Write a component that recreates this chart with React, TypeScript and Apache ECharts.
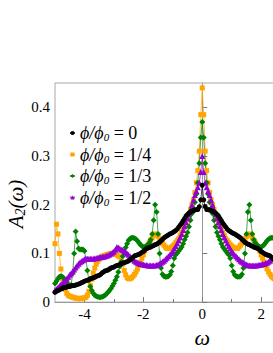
import React, { useEffect, useRef } from "react";
import * as echarts from "echarts";

const STEP = 0.05;
// values for omega = 0, 0.05, ..., 5.0 (curves are symmetric in omega)
const phi0Half = [
  0.24, 0.21, 0.196, 0.19, 0.19, 0.189, 0.188, 0.187, 0.185, 0.183,
  0.18, 0.177, 0.172, 0.167, 0.162, 0.158, 0.154, 0.15, 0.147, 0.145,
  0.143, 0.141, 0.14, 0.138, 0.136, 0.134, 0.132, 0.129, 0.126, 0.123,
  0.121, 0.119, 0.118, 0.116, 0.115, 0.113, 0.112, 0.111, 0.11, 0.107,
  0.104, 0.102, 0.1, 0.098, 0.097, 0.096, 0.095, 0.092, 0.089, 0.087,
  0.085, 0.083, 0.082, 0.081, 0.08, 0.079, 0.077, 0.076, 0.075, 0.074,
  0.072, 0.071, 0.07, 0.068, 0.066, 0.065, 0.064, 0.062, 0.06, 0.057,
  0.055, 0.054, 0.053, 0.051, 0.05, 0.049, 0.048, 0.046, 0.045, 0.044,
  0.043, 0.041, 0.04, 0.038, 0.037, 0.036, 0.035, 0.034, 0.034, 0.033,
  0.033, 0.032, 0.031, 0.03, 0.03, 0.028, 0.027, 0.025, 0.024, 0.022,
  0.02,
];
const phi14Half = [
  0.44, 0.385, 0.31, 0.27, 0.245, 0.225, 0.21, 0.2, 0.19, 0.18,
  0.17, 0.163, 0.157, 0.15, 0.143, 0.137, 0.13, 0.126, 0.122, 0.118,
  0.115, 0.113, 0.111, 0.11, 0.11, 0.113, 0.117, 0.121, 0.125, 0.13,
  0.135, 0.139, 0.14, 0.137, 0.132, 0.127, 0.122, 0.116, 0.11, 0.105,
  0.097, 0.09, 0.082, 0.075, 0.068, 0.062, 0.057, 0.053, 0.05, 0.048,
  0.048, 0.05, 0.056, 0.065, 0.078, 0.09, 0.093, 0.095, 0.097, 0.098,
  0.099, 0.1, 0.1, 0.099, 0.098, 0.097, 0.096, 0.095, 0.094, 0.091,
  0.088, 0.084, 0.078, 0.07, 0.06, 0.047, 0.034, 0.022, 0.014, 0.01,
  0.009, 0.008, 0.008, 0.007, 0.007, 0.008, 0.008, 0.009, 0.01, 0.011,
  0.012, 0.014, 0.018, 0.026, 0.036, 0.048, 0.068, 0.1, 0.14, 0.16,
  0.12,
];
const phi13Half = [
  0.37, 0.338, 0.285, 0.245, 0.222, 0.205, 0.192, 0.182, 0.168, 0.155,
  0.143, 0.135, 0.128, 0.12, 0.113, 0.109, 0.105, 0.101, 0.097, 0.09,
  0.075, 0.063, 0.056, 0.053, 0.052, 0.052, 0.053, 0.057, 0.07, 0.1,
  0.14, 0.185, 0.2, 0.168, 0.14, 0.128, 0.122, 0.118, 0.115, 0.113,
  0.113, 0.115, 0.118, 0.122, 0.126, 0.129, 0.131, 0.132, 0.132, 0.13,
  0.127, 0.12, 0.112, 0.104, 0.094, 0.083, 0.073, 0.062, 0.052, 0.045,
  0.038, 0.033, 0.028, 0.024, 0.02, 0.017, 0.014, 0.012, 0.011, 0.01,
  0.01, 0.011, 0.012, 0.014, 0.018, 0.024, 0.032, 0.045, 0.065, 0.088,
  0.105, 0.108, 0.108, 0.108, 0.11, 0.125, 0.145, 0.1, 0.06, 0.035,
  0.032, 0.036, 0.04, 0.045, 0.049, 0.052, 0.053, 0.052, 0.048, 0.043,
  0.038,
];
const phi12Half = [
  0.3, 0.267, 0.245, 0.236, 0.228, 0.22, 0.21, 0.2, 0.19, 0.18,
  0.172, 0.164, 0.156, 0.148, 0.14, 0.133, 0.127, 0.121, 0.115, 0.11,
  0.105, 0.101, 0.097, 0.094, 0.091, 0.088, 0.085, 0.083, 0.081, 0.079,
  0.077, 0.076, 0.075, 0.075, 0.075, 0.075, 0.075, 0.075, 0.076, 0.076,
  0.077, 0.078, 0.078, 0.08, 0.081, 0.083, 0.085, 0.088, 0.091, 0.094,
  0.097, 0.1, 0.103, 0.105, 0.107, 0.108, 0.11, 0.112, 0.113, 0.108,
  0.104, 0.102, 0.1, 0.098, 0.096, 0.095, 0.094, 0.093, 0.093, 0.092,
  0.092, 0.091, 0.09, 0.09, 0.089, 0.089, 0.089, 0.089, 0.089, 0.089,
  0.088, 0.086, 0.084, 0.082, 0.079, 0.075, 0.071, 0.067, 0.063, 0.059,
  0.056, 0.052, 0.048, 0.045, 0.042, 0.039, 0.036, 0.033, 0.03, 0.027,
  0.025,
];

const yTicks = [0, 0.1, 0.2, 0.3, 0.4];
const xMajorTicks = [-4, -2, 0, 2, 4];
const xMinorTicks = [-3, -1, 1, 3];

const SERIF = "Liberation Serif";

function mirror(half: number[]): number[][] {
  const pts: number[][] = [];
  for (let i = half.length - 1; i >= 1; i--) pts.push([-Number((i * STEP).toFixed(2)), half[i]]);
  for (let i = 0; i < half.length; i++) pts.push([Number((i * STEP).toFixed(2)), half[i]]);
  return pts;
}

const legendText: Record<string, string> = {
  p0: "{i|ϕ/ϕ}{s|0}{n| = 0}",
  p14: "{i|ϕ/ϕ}{s|0}{n| = 1/4}",
  p13: "{i|ϕ/ϕ}{s|0}{n| = 1/3}",
  p12: "{i|ϕ/ϕ}{s|0}{n| = 1/2}",
};

export default function App() {
  const ref = useRef<HTMLDivElement>(null);
  useEffect(() => {
    if (!ref.current) return;
    const chart = echarts.init(ref.current, undefined, { renderer: "svg" });
    const mk = (name: string, half: number[], color: string, symbol: string, size: number) => ({
      name,
      type: "line",
      data: mirror(half),
      symbol,
      symbolSize: size,
      itemStyle: { color },
      lineStyle: { color, width: 1, opacity: 0.7 },
      emphasis: { disabled: true },
    });
    chart.setOption({
      animation: false,
      grid: { left: 55, right: 10.5, top: 83, bottom: 30.3, show: true, borderColor: "#a8a8a8", borderWidth: 1 },
      xAxis: [
        {
          type: "value",
          min: -5,
          max: 5,
          axisLine: { show: true, lineStyle: { color: "#999", width: 1 } },
          axisTick: { show: true, inside: true, length: 5, customValues: xMajorTicks, lineStyle: { color: "#777" } },
          axisLabel: { customValues: xMajorTicks, color: "#000", fontFamily: SERIF, fontSize: 15, margin: 4,
            formatter: (v: number) => (v < 0 ? "-" + Math.abs(v) : String(v)) },
          splitLine: { show: false },
          name: "ω",
          nameLocation: "middle",
          nameGap: 18,
          nameTextStyle: { fontFamily: SERIF, fontStyle: "italic", fontSize: 22, color: "#000" },
        },
        {
          type: "value",
          min: -5,
          max: 5,
          position: "bottom",
          axisLine: { show: false },
          axisTick: { show: true, inside: true, length: 3, customValues: xMinorTicks, lineStyle: { color: "#777" } },
          axisLabel: { show: false },
          splitLine: { show: false },
        },
      ],
      yAxis: {
        type: "value",
        min: 0,
        max: 0.45,
        interval: 0.1,
        axisLine: { show: true, lineStyle: { color: "#999", width: 1 } },
        axisTick: { show: true, inside: true, length: 5, customValues: yTicks, lineStyle: { color: "#777" } },
        axisLabel: { customValues: yTicks, color: "#000", fontFamily: SERIF, fontSize: 15, margin: 5,
          formatter: (v: number) => (v === 0 ? "0" : v.toFixed(1)) },
        splitLine: { show: false },
      },
      legend: {
        orient: "vertical",
        left: 64,
        top: 119,
        itemWidth: 5,
        itemHeight: 5,
        itemGap: 3,
        data: ["p0", "p14", "p13", "p12"],
        formatter: (name: string) => legendText[name],
        textStyle: {
          color: "#000",
          rich: {
            i: { fontFamily: SERIF, fontStyle: "italic", fontSize: 18, lineHeight: 19, color: "#000" },
            s: { fontFamily: SERIF, fontStyle: "italic", fontSize: 11, padding: [8, 0, 0, 0], color: "#000" },
            n: { fontFamily: SERIF, fontSize: 18, lineHeight: 19, color: "#000" },
          },
        },
      },
      graphic: [
        {
          type: "text",
          x: 16,
          y: 204,
          rotation: Math.PI / 2,
          style: {
            text: "{a|A}{s|2}{a|(ω)}",
            align: "center",
            verticalAlign: "middle",
            rich: {
              a: { fontFamily: SERIF, fontStyle: "italic", fontSize: 21, lineHeight: 22, fill: "#000" },
              s: { fontFamily: SERIF, fontStyle: "italic", fontSize: 14, padding: [9, 0, 0, 0], fill: "#000" },
            },
          },
        },
      ],
      series: [
        mk("p14", phi14Half, "#ffa500", "rect", 5),
        mk("p13", phi13Half, "#008000", "diamond", 6),
        mk("p12", phi12Half, "#9400d3", "triangle", 6),
        mk("p0", phi0Half, "#000000", "circle", 5),
      ],
    });
    return () => chart.dispose();
  }, []);
  return (
    <div style={{ position: "fixed", left: 0, top: 0, width: 273, height: 353, overflow: "hidden", background: "#fff" }}>
      <div ref={ref} style={{ width: 360, height: 353 }} />
    </div>
  );
}
